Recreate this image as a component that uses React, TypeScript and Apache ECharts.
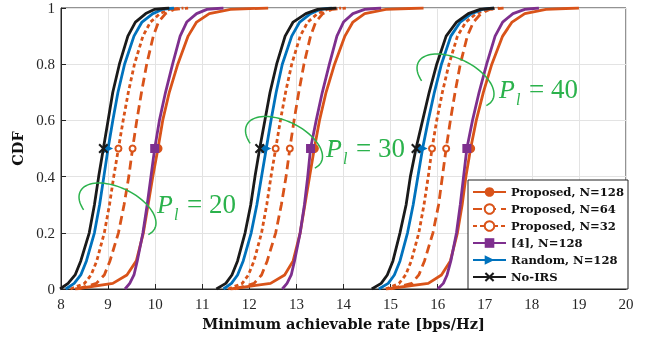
import React, { useEffect, useRef } from "react";
import * as echarts from "echarts";

// CDF probability levels at which each curve's rate was read
const cdfLevels = [0, 0.02, 0.05, 0.1, 0.2, 0.3, 0.4, 0.5, 0.6, 0.7, 0.8, 0.9, 0.95, 0.98, 0.995, 1];
const markerLevel = 0.5;

const seriesNames = ["Proposed, N=128", "Proposed, N=64", "Proposed, N=32", "[4], N=128", "Random, N=128", "No-IRS"];
const powerLevels = [20, 30, 40];

// P_l = 20
const prop128_P20 = [8.3, 9.1, 9.4, 9.6, 9.75, 9.85, 9.95, 10.06, 10.16, 10.3, 10.48, 10.7, 10.88, 11.15, 11.6, 12.4];
const prop64_P20 = [8.35, 8.75, 8.92, 9.04, 9.22, 9.34, 9.44, 9.52, 9.61, 9.71, 9.82, 9.96, 10.07, 10.22, 10.4, 10.7];
const prop32_P20 = [8.2, 8.5, 8.64, 8.76, 8.92, 9.03, 9.12, 9.22, 9.32, 9.43, 9.56, 9.74, 9.9, 10.1, 10.3, 10.6];
const ref4_P20 = [9.36, 9.46, 9.55, 9.62, 9.74, 9.83, 9.91, 9.99, 10.09, 10.22, 10.37, 10.53, 10.67, 10.88, 11.1, 11.45];
const random_P20 = [8.1, 8.28, 8.42, 8.54, 8.71, 8.82, 8.91, 9.0, 9.1, 9.21, 9.35, 9.55, 9.72, 9.95, 10.15, 10.4];
const noIrs_P20 = [7.98, 8.15, 8.3, 8.42, 8.6, 8.71, 8.8, 8.9, 9.0, 9.1, 9.24, 9.42, 9.58, 9.8, 9.98, 10.3];

// P_l = 30
const prop128_P30 = [11.6, 12.45, 12.75, 12.93, 13.08, 13.18, 13.28, 13.38, 13.49, 13.63, 13.81, 14.03, 14.2, 14.45, 14.9, 15.7];
const prop64_P30 = [11.7, 12.1, 12.26, 12.38, 12.56, 12.68, 12.78, 12.86, 12.95, 13.05, 13.16, 13.3, 13.41, 13.56, 13.75, 14.05];
const prop32_P30 = [11.55, 11.85, 11.98, 12.1, 12.26, 12.37, 12.46, 12.56, 12.66, 12.77, 12.9, 13.08, 13.24, 13.45, 13.65, 13.95];
const ref4_P30 = [12.7, 12.8, 12.89, 12.96, 13.08, 13.17, 13.24, 13.3, 13.42, 13.55, 13.7, 13.86, 14.0, 14.2, 14.45, 14.8];
const random_P30 = [11.45, 11.62, 11.75, 11.87, 12.04, 12.16, 12.26, 12.36, 12.46, 12.57, 12.7, 12.9, 13.07, 13.3, 13.5, 13.75];
const noIrs_P30 = [11.3, 11.5, 11.63, 11.75, 11.91, 12.03, 12.12, 12.22, 12.33, 12.44, 12.58, 12.76, 12.93, 13.2, 13.45, 13.85];

// P_l = 40
const prop128_P40 = [14.9, 15.8, 16.08, 16.27, 16.42, 16.52, 16.6, 16.7, 16.82, 16.97, 17.15, 17.38, 17.58, 17.85, 18.3, 19.0];
const prop64_P40 = [15.0, 15.45, 15.6, 15.72, 15.9, 16.02, 16.1, 16.18, 16.27, 16.37, 16.48, 16.63, 16.76, 16.92, 17.1, 17.4];
const prop32_P40 = [14.9, 15.18, 15.32, 15.44, 15.6, 15.71, 15.8, 15.88, 15.98, 16.1, 16.24, 16.42, 16.6, 16.82, 17.05, 17.3];
const ref4_P40 = [16.0, 16.12, 16.2, 16.28, 16.4, 16.48, 16.55, 16.62, 16.74, 16.88, 17.04, 17.22, 17.38, 17.6, 17.85, 18.15];
const random_P40 = [14.75, 14.95, 15.08, 15.2, 15.36, 15.48, 15.58, 15.68, 15.8, 15.93, 16.08, 16.28, 16.48, 16.72, 16.95, 17.2];
const noIrs_P40 = [14.6, 14.8, 14.93, 15.05, 15.2, 15.33, 15.42, 15.54, 15.68, 15.82, 15.98, 16.18, 16.4, 16.65, 16.9, 17.2];

const curvesByGroup = [
  [prop128_P20, prop64_P20, prop32_P20, ref4_P20, random_P20, noIrs_P20],
  [prop128_P30, prop64_P30, prop32_P30, ref4_P30, random_P30, noIrs_P30],
  [prop128_P40, prop64_P40, prop32_P40, ref4_P40, random_P40, noIrs_P40],
];

const ORANGE = "#D95319";
const PURPLE = "#7E2F8E";
const BLUE = "#0072BD";
const BLACK = "#1a1a1a";
const GREEN = "#2bb24c";
const XMARK = "path://M0,1.5 L1.5,0 L5,3.5 L8.5,0 L10,1.5 L6.5,5 L10,8.5 L8.5,10 L5,6.5 L1.5,10 L0,8.5 L3.5,5 Z";

const styles = [
  { color: ORANGE, type: "solid" as any, symbol: "circle", size: 9, rotate: 0 },
  { color: ORANGE, type: [9, 5] as any, symbol: "emptyCircle", size: 6, rotate: 0 },
  { color: ORANGE, type: [4, 3] as any, symbol: "emptyCircle", size: 6, rotate: 0 },
  { color: PURPLE, type: "solid" as any, symbol: "rect", size: 9, rotate: 0 },
  { color: BLUE, type: "solid" as any, symbol: "triangle", size: 10, rotate: -90 },
  { color: BLACK, type: "solid" as any, symbol: XMARK, size: 10, rotate: 0 },
];

// Annotation layout (pixels): ellipse centre, text anchor
const annos = [
  { cx: 117.5, cy: 210, px: 157, base: 217 },
  { cx: 284, cy: 143.5, px: 326, base: 161.5 },
  { cx: 455.5, cy: 81, px: 499, base: 102 },
];

function ellipseArc(cx: number, cy: number, a: number, b: number, phiDeg: number, t0: number, t1: number) {
  const pts: number[][] = [];
  const phi = (phiDeg * Math.PI) / 180;
  const n = 60;
  for (let i = 0; i <= n; i++) {
    const t = ((t0 + ((t1 - t0) * i) / n) * Math.PI) / 180;
    const u = a * Math.cos(t);
    const v = b * Math.sin(t);
    pts.push([cx + u * Math.cos(phi) - v * Math.sin(phi), cy + u * Math.sin(phi) + v * Math.cos(phi)]);
  }
  return pts;
}

export default function App() {
  const ref = useRef<HTMLDivElement>(null);
  useEffect(() => {
    if (!ref.current) return;
    const chart = echarts.init(ref.current, undefined, { renderer: "svg" });
    const series: any[] = [];
    curvesByGroup.forEach((group) => {
      group.forEach((vals, si) => {
        const st = styles[si];
        series.push({
          name: seriesNames[si],
          type: "line",
          showSymbol: true,
          symbol: st.symbol,
          symbolSize: st.size,
          symbolRotate: st.rotate,
          z: 2 + si,
          lineStyle: { color: st.color, width: 2.8, type: st.type },
          itemStyle: { color: st.color, borderWidth: st.symbol === "emptyCircle" ? 2.2 : 0 },
          emphasis: { disabled: true },
          data: vals.map((x, i) =>
            cdfLevels[i] === markerLevel
              ? { value: [x, cdfLevels[i]] }
              : { value: [x, cdfLevels[i]], symbol: "none" }
          ),
        });
      });
    });

    const graphics: any[] = [];
    annos.forEach((an, gi) => {
      graphics.push({
        type: "polyline",
        shape: { points: ellipseArc(an.cx, an.cy, 41.6, 21.9, 26.5, 137, 382) },
        style: { stroke: GREEN, lineWidth: 1.5, fill: null },
        z: 100,
      });
      graphics.push({
        type: "text",
        x: an.px,
        y: an.base,
        style: {
          text: "P",
          font: "italic 26px 'Liberation Serif'",
          fill: GREEN,
          verticalAlign: "bottom",
        },
        z: 100,
      });
      graphics.push({
        type: "line",
        shape: { x1: an.px + 4, y1: an.base - 20, x2: an.px + 14, y2: an.base - 20 },
        style: { stroke: GREEN, lineWidth: 1 },
        z: 100,
      });
      graphics.push({
        type: "text",
        x: an.px + 17,
        y: an.base + 5,
        style: { text: "l", font: "italic 16px 'Liberation Serif'", fill: GREEN, verticalAlign: "bottom" },
        z: 100,
      });
      graphics.push({
        type: "text",
        x: an.px + 30,
        y: an.base,
        style: {
          text: "= " + powerLevels[gi],
          font: "27px 'Liberation Serif'",
          fill: GREEN,
          verticalAlign: "bottom",
        },
        z: 100,
      });
    });

    chart.setOption({
      animation: false,
      grid: { left: 61, right: 28, top: 8, bottom: 50, show: true, borderColor: "#262626", borderWidth: 1 },
      xAxis: {
        type: "value",
        min: 8,
        max: 20,
        interval: 1,
        name: "Minimum achievable rate [bps/Hz]",
        nameLocation: "middle",
        nameGap: 27,
        nameTextStyle: { fontFamily: "DejaVu Serif", fontWeight: "bold", fontSize: 14.5, color: "#111" },
        axisLine: { onZero: false, lineStyle: { color: "#262626" } },
        axisTick: { inside: true, length: 5, lineStyle: { color: "#262626" } },
        axisLabel: { fontFamily: "Liberation Serif", fontSize: 15, color: "#262626", margin: 7 },
        splitLine: { show: true, lineStyle: { color: "#e3e3e3", width: 1 } },
      },
      yAxis: {
        type: "value",
        min: 0,
        max: 1,
        interval: 0.2,
        name: "CDF",
        nameLocation: "middle",
        nameGap: 36,
        nameTextStyle: { fontFamily: "DejaVu Serif", fontWeight: "bold", fontSize: 14.5, color: "#111" },
        axisLine: { show: true, lineStyle: { color: "#262626" } },
        axisTick: { show: true, inside: true, length: 5, lineStyle: { color: "#262626" } },
        axisLabel: { fontFamily: "Liberation Serif", fontSize: 15, color: "#262626", margin: 6 },
        splitLine: { show: true, lineStyle: { color: "#e3e3e3", width: 1 } },
      },
      legend: {
        data: seriesNames,
        orient: "vertical",
        right: 26,
        bottom: 50,
        padding: [6, 4, 6, 4],
        itemGap: 5,
        itemWidth: 33,
        itemHeight: 12,
        backgroundColor: "#fff",
        borderColor: "#222",
        borderWidth: 1,
        borderRadius: 0,
        textStyle: { fontFamily: "DejaVu Serif", fontWeight: "bold", fontSize: 11.6, color: "#111" },
        z: 50,
      },
      graphic: graphics,
      series,
    });
    return () => chart.dispose();
  }, []);
  return <div ref={ref} style={{ position: "fixed", left: 0, top: 0, width: 654, height: 339 }} />;
}
